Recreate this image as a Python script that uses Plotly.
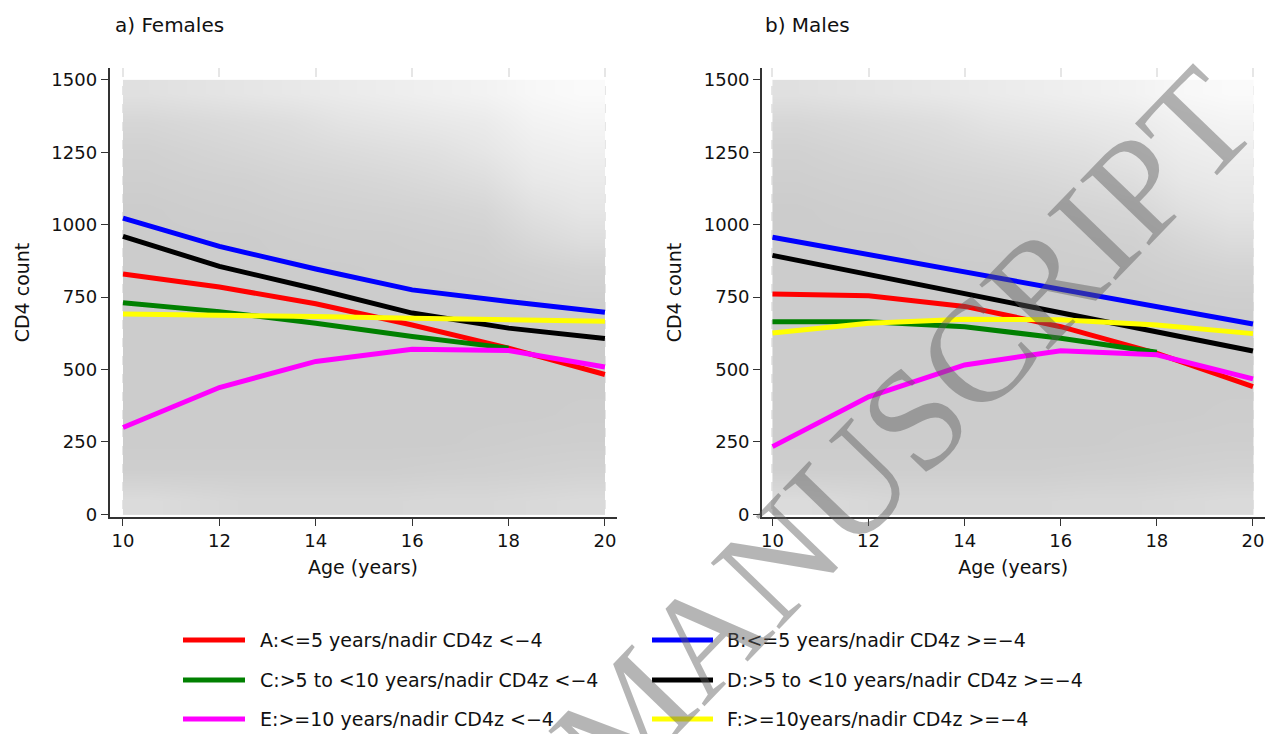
import plotly.graph_objects as go

W, H = 1268, 734

ages = [10, 12, 14, 16, 18, 20]
ages_c = [10, 12, 14, 16, 18]

series_names = [
    "A:<=5 years/nadir CD4z <\u22124",
    "B:<=5 years/nadir CD4z >=\u22124",
    "C:>5 to <10 years/nadir CD4z <\u22124",
    "D:>5 to <10 years/nadir CD4z >=\u22124",
    "E:>=10 years/nadir CD4z <\u22124",
    "F:>=10years/nadir CD4z >=\u22124",
]
series_colors = ["#ff0000", "#0000ff", "#008000", "#000000", "#ff00ff", "#ffff00"]

# Females: predicted CD4 count by age
fem_A = [830, 785, 727, 654, 574, 483]
fem_B = [1023, 925, 847, 775, 735, 698]
fem_C = [731, 700, 660, 614, 574]
fem_D = [960, 856, 778, 695, 643, 607]
fem_E = [300, 438, 528, 570, 566, 509]
fem_F = [692, 689, 683, 677, 672, 667]

# Males: predicted CD4 count by age
mal_A = [761, 755, 718, 648, 556, 441]
mal_B = [957, 897, 837, 777, 717, 657]
mal_C = [665, 665, 648, 608, 560]
mal_D = [894, 828, 762, 695, 631, 564]
mal_E = [234, 406, 516, 565, 551, 468]
mal_F = [626, 660, 674, 672, 654, 624]

# Observed-data cloud: estimated point coverage (0..1) per 1-year x 100-cell bin
dens_x_edges = list(range(10, 21))
dens_y_edges = list(range(0, 1600, 100))
fem_density = [
    [0.70, 0.75, 0.80, 0.80, 0.80, 0.80, 0.78, 0.78, 0.75, 0.72],
    [0.95, 0.95, 0.95, 0.95, 0.95, 0.95, 0.93, 0.92, 0.90, 0.88],
    [1.00, 1.00, 1.00, 1.00, 1.00, 1.00, 1.00, 0.98, 0.96, 0.95],
    [1.00, 1.00, 1.00, 1.00, 1.00, 1.00, 1.00, 1.00, 1.00, 0.98],
    [1.00, 1.00, 1.00, 1.00, 1.00, 1.00, 1.00, 1.00, 1.00, 1.00],
    [1.00, 1.00, 1.00, 1.00, 1.00, 1.00, 1.00, 1.00, 1.00, 1.00],
    [1.00, 1.00, 1.00, 1.00, 1.00, 1.00, 1.00, 1.00, 1.00, 1.00],
    [1.00, 1.00, 1.00, 1.00, 1.00, 1.00, 1.00, 1.00, 0.97, 0.95],
    [1.00, 1.00, 1.00, 1.00, 1.00, 0.98, 0.97, 0.95, 0.90, 0.85],
    [1.00, 1.00, 1.00, 0.97, 0.95, 0.95, 0.92, 0.90, 0.75, 0.65],
    [1.00, 0.97, 0.95, 0.92, 0.90, 0.88, 0.85, 0.80, 0.60, 0.50],
    [0.95, 0.92, 0.90, 0.85, 0.82, 0.78, 0.72, 0.65, 0.45, 0.40],
    [0.90, 0.85, 0.80, 0.75, 0.70, 0.65, 0.60, 0.50, 0.35, 0.30],
    [0.80, 0.75, 0.70, 0.65, 0.55, 0.50, 0.45, 0.40, 0.25, 0.20],
    [0.60, 0.55, 0.50, 0.45, 0.40, 0.35, 0.30, 0.25, 0.15, 0.10],
]
mal_density = [
    [0.70, 0.75, 0.80, 0.80, 0.80, 0.80, 0.78, 0.78, 0.75, 0.72],
    [0.95, 0.95, 0.95, 0.95, 0.95, 0.95, 0.93, 0.92, 0.90, 0.88],
    [1.00, 1.00, 1.00, 1.00, 1.00, 1.00, 1.00, 0.98, 0.96, 0.95],
    [1.00, 1.00, 1.00, 1.00, 1.00, 1.00, 1.00, 1.00, 1.00, 0.98],
    [1.00, 1.00, 1.00, 1.00, 1.00, 1.00, 1.00, 1.00, 1.00, 1.00],
    [1.00, 1.00, 1.00, 1.00, 1.00, 1.00, 1.00, 1.00, 1.00, 1.00],
    [1.00, 1.00, 1.00, 1.00, 1.00, 1.00, 1.00, 1.00, 1.00, 1.00],
    [1.00, 1.00, 1.00, 1.00, 1.00, 1.00, 1.00, 1.00, 0.97, 0.95],
    [1.00, 1.00, 1.00, 1.00, 1.00, 0.98, 0.97, 0.95, 0.90, 0.85],
    [1.00, 1.00, 1.00, 0.97, 0.95, 0.95, 0.92, 0.90, 0.78, 0.68],
    [1.00, 0.97, 0.95, 0.92, 0.90, 0.88, 0.85, 0.80, 0.62, 0.52],
    [0.95, 0.92, 0.90, 0.85, 0.82, 0.78, 0.72, 0.65, 0.48, 0.42],
    [0.90, 0.85, 0.80, 0.75, 0.70, 0.65, 0.60, 0.50, 0.38, 0.32],
    [0.80, 0.75, 0.70, 0.65, 0.55, 0.50, 0.45, 0.40, 0.28, 0.22],
    [0.60, 0.55, 0.50, 0.45, 0.40, 0.35, 0.30, 0.25, 0.15, 0.10],
]

panel_titles = ["a) Females", "b) Males"]
x_title = "Age (years)"
y_title = "CD4 count"
x_ticks = [10, 12, 14, 16, 18, 20]
y_ticks = [0, 250, 500, 750, 1000, 1250, 1500]

fem = [(ages, fem_A), (ages, fem_B), (ages_c, fem_C), (ages, fem_D), (ages, fem_E), (ages, fem_F)]
mal = [(ages, mal_A), (ages, mal_B), (ages_c, mal_C), (ages, mal_D), (ages, mal_E), (ages, mal_F)]

FONT = "DejaVu Sans, Liberation Sans, Arial"
TXT = "#111111"

fig = go.Figure()

for dens, xa, ya in [(fem_density, "x", "y"), (mal_density, "x2", "y2")]:
    fig.add_trace(go.Heatmap(
        x=dens_x_edges, y=dens_y_edges, z=dens,
        colorscale=[[0, "#ffffff"], [1, "#cccccc"]], zmin=0, zmax=1,
        zsmooth="best", showscale=False, hoverinfo="skip",
        xaxis=xa, yaxis=ya,
    ))

for data, xa, ya in [(fem, "x", "y"), (mal, "x2", "y2")]:
    for (xs, ys), name, col in zip(data, series_names, series_colors):
        fig.add_trace(go.Scatter(
            x=xs, y=ys, mode="lines", name=name,
            line=dict(color=col, width=5),
            showlegend=False, xaxis=xa, yaxis=ya,
        ))

axis_common = dict(
    showline=True, linecolor="#333333", linewidth=1.5,
    ticks="outside", ticklen=7, tickwidth=1.3, tickcolor="#333333",
    tickfont=dict(family=FONT, size=18, color=TXT),
    zeroline=False, automargin=False,
)
ydom = [(734 - 517) / H, (734 - 68) / H]
xgrid = dict(showgrid=True, gridcolor="#e6e6e6", gridwidth=1.5, griddash="dash")

fig.update_layout(
    width=W, height=H, autosize=False,
    margin=dict(l=0, r=0, t=0, b=0, pad=0, autoexpand=False),
    plot_bgcolor="white", paper_bgcolor="white",
    xaxis=dict(domain=[109.5 / W, 616.5 / W], range=[9.72, 20.24], tickvals=x_ticks,
               title=dict(text=x_title, standoff=10, font=dict(family=FONT, size=19, color=TXT)),
               anchor="y", **xgrid, **axis_common),
    yaxis=dict(domain=ydom, range=[-9, 1541], tickvals=y_ticks, showgrid=False,
               title=dict(text=y_title, standoff=17, font=dict(family=FONT, size=19, color=TXT)),
               anchor="x", **axis_common),
    xaxis2=dict(domain=[761.9 / W, 1264.5 / W], range=[9.78, 20.24], tickvals=x_ticks,
                title=dict(text=x_title, standoff=10, font=dict(family=FONT, size=19, color=TXT)),
                anchor="y2", **xgrid, **axis_common),
    yaxis2=dict(domain=ydom, range=[-9, 1541], tickvals=y_ticks, showgrid=False,
                title=dict(text=y_title, standoff=17, font=dict(family=FONT, size=19, color=TXT)),
                anchor="x2", **axis_common),
    showlegend=False,
)

# panel titles
for t, px in zip(panel_titles, [113, 763]):
    fig.add_annotation(text=t, xref="paper", yref="paper", x=px / W, y=1 - 25 / H,
                       xanchor="left", yanchor="middle", showarrow=False,
                       font=dict(family=FONT, size=20, color=TXT))

# legend (2 columns x 3 rows)
leg_cols = [(183, 245, 258), (652, 713, 725)]
leg_rows = [640, 680, 719]
for i, (name, col) in enumerate(zip(series_names, series_colors)):
    c = leg_cols[i % 2]
    r = leg_rows[i // 2]
    fig.add_shape(type="line", xref="paper", yref="paper",
                  x0=c[0] / W, x1=c[1] / W, y0=1 - r / H, y1=1 - r / H,
                  line=dict(color=col, width=5))
    fig.add_annotation(text=name, xref="paper", yref="paper", x=c[2] / W, y=1 - r / H,
                       xanchor="left", yanchor="middle", showarrow=False,
                       font=dict(family=FONT, size=19, color=TXT))

# watermark
fig.add_annotation(text="MANUSCRIPT", xref="paper", yref="paper",
                   x=903 / W, y=1 - 430 / H, xanchor="center", yanchor="middle",
                   showarrow=False, textangle=-46,
                   font=dict(family="Liberation Serif, Times New Roman", size=145,
                             color="rgba(90,90,90,0.45)"))

post = (
    "document.documentElement.style.margin='0';"
    "document.body.style.margin='0';"
    "document.body.style.overflow='hidden';"
)
fig.write_html("out.html", post_script=post,
               config={"displayModeBar": False})
